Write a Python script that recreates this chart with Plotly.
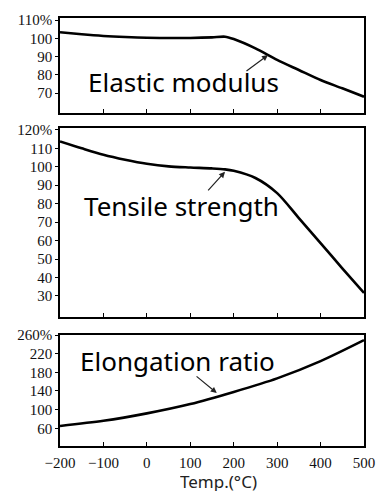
import plotly.graph_objects as go

temp = [-200, -150, -100, -50, 0, 50, 100, 150, 180, 200, 250, 300, 350, 400, 450, 500]
elastic = [103.3, 102.2, 101.3, 100.7, 100.3, 100.2, 100.2, 100.5, 100.9, 99.6, 94.5, 88.2, 82.7, 77.2, 72.7, 68.1]
tensile = [113.7, 110.0, 106.5, 103.8, 101.6, 100.2, 99.6, 99.1, 98.6, 97.8, 93.9, 85.7, 72.2, 58.6, 45.0, 31.6]
elong_t = [-200, -100, 0, 100, 200, 300, 400, 500]
elong = [65, 76, 92, 112, 138, 167, 204, 249]

x_ticks = [-200, -100, 0, 100, 200, 300, 400, 500]
y1_ticks = [70, 80, 90, 100, 110]
y1_text = ["70", "80", "90", "100", "110%"]
y2_ticks = [30, 40, 50, 60, 70, 80, 90, 100, 110, 120]
y2_text = ["30", "40", "50", "60", "70", "80", "90", "100", "110", "120%"]
y3_ticks = [60, 100, 140, 180, 220, 260]
y3_text = ["60", "100", "140", "180", "220", "260%"]

fig = go.Figure()
line = dict(color="black", width=2.6, shape="spline", smoothing=0.8)
fig.add_trace(go.Scatter(x=temp, y=elastic, mode="lines", line=line, xaxis="x", yaxis="y"))
fig.add_trace(go.Scatter(x=temp, y=tensile, mode="lines", line=line, xaxis="x2", yaxis="y2"))
fig.add_trace(go.Scatter(x=elong_t, y=elong, mode="lines", line=line, xaxis="x3", yaxis="y3"))

tickfont = dict(family="Liberation Serif", size=15, color="#111")
def xax(anchor, show):
    return dict(range=[-200, 500], tickvals=x_ticks, ticks="inside", ticklen=4, tickwidth=1.2,
                tickcolor="black", showticklabels=show, showline=True, linecolor="black",
                linewidth=1.5, mirror=True, showgrid=False, zeroline=False, anchor=anchor,
                tickfont=tickfont, domain=[0, 1], automargin=False, ticklabelstandoff=2)
def yax(anchor, rng, vals, text, dom):
    return dict(range=rng, tickvals=vals, ticktext=text, ticks="outside", ticklen=3,
                tickcolor="black", showline=True, linecolor="black", linewidth=1.5,
                mirror=True, showgrid=False, zeroline=False, anchor=anchor, domain=dom,
                tickfont=tickfont, automargin=False)

fig.update_layout(
    width=378, height=492, margin=dict(l=60, r=14, t=18, b=46, autoexpand=False),
    paper_bgcolor="white", plot_bgcolor="white", showlegend=False,
    xaxis=xax("y", False), yaxis=yax("x", [59.2, 111.1], y1_ticks, y1_text, [0.778, 1.0]),
    xaxis2=xax("y2", False), yaxis2=yax("x2", [18.6, 121.0], y2_ticks, y2_text, [0.3014, 0.743]),
    xaxis3=xax("y3", True), yaxis3=yax("x3", [22, 260], y3_ticks, y3_text, [0.0, 0.2593]),
)

labfont = dict(family="Noto Sans", size=26, color="black")
fig.add_annotation(x=-140, y=76, xref="x", yref="y", text="Elastic modulus", showarrow=False,
                   font=labfont, xanchor="left")
fig.add_annotation(x=-149, y=78.8, xref="x2", yref="y2", text="Tensile strength", showarrow=False,
                   font=labfont, xanchor="left")
fig.add_annotation(x=-158, y=205, xref="x3", yref="y3", text="Elongation ratio", showarrow=False,
                   font=labfont, xanchor="left")

arrow = dict(showarrow=True, arrowhead=2, arrowsize=1, arrowwidth=1.2, arrowcolor="#222", text="")
fig.add_annotation(x=279, y=90.9, ax=226, ay=81.6, xref="x", yref="y", axref="x", ayref="y", **arrow)
fig.add_annotation(x=180, y=97.3, ax=138, ay=86.4, xref="x2", yref="y2", axref="x2", ayref="y2", **arrow)
fig.add_annotation(x=161, y=135.6, ax=111, ay=174, xref="x3", yref="y3", axref="x3", ayref="y3", **arrow)

fig.add_annotation(x=0.52, y=-0.0818, xref="paper", yref="paper", text="Temp.(°C)", showarrow=False,
                   yanchor="middle", height=20, borderpad=0,
                   font=dict(family="Noto Sans", size=17, color="#222"))

fig.write_html("out.html")
